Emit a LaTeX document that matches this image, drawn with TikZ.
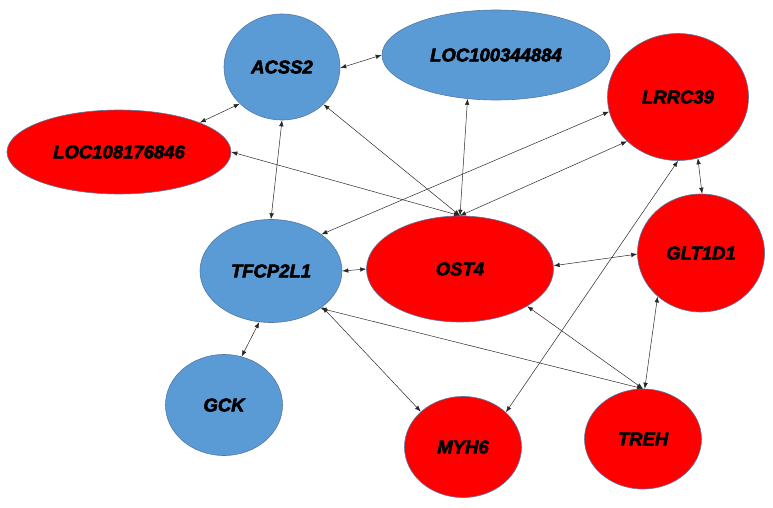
\documentclass[tikz,border=0pt]{standalone}
\usepackage{fontspec}
\setmainfont{Liberation Sans}[BoldItalicFeatures={FakeBold=3}]
\usetikzlibrary{shapes.geometric,arrows.meta}
\definecolor{nblue}{RGB}{91,155,213}
\definecolor{nred}{RGB}{255,0,0}
\definecolor{nedge}{RGB}{85,120,165}
\definecolor{lnk}{RGB}{40,40,40}
\begin{document}
\begin{tikzpicture}[x=1pt,y=-1pt,
  gene/.style={ellipse,draw=nedge,line width=0.6pt,inner sep=0pt,
    font=\fontsize{18.5}{20}\selectfont\bfseries\itshape},
  bgene/.style={gene,fill=nblue},
  rgene/.style={gene,fill=nred},
  lnkline/.style={lnk,line width=0.5pt,{Latex[length=6pt,width=4.5pt]}-{Latex[length=6pt,width=4.5pt]}}]
\useasboundingbox (0,0) rectangle (773,508);
\node[bgene,minimum width=116pt,minimum height=106pt] (acss2) at (282,67) {ACSS2};
\node[bgene,minimum width=228pt,minimum height=90pt] (loc34) at (496,55) {LOC100344884};
\node[rgene,minimum width=224pt,minimum height=84pt] (loc08) at (119,152) {LOC108176846};
\node[rgene,minimum width=141pt,minimum height=127pt] (lrrc39) at (678,97) {LRRC39};
\node[rgene,minimum width=127pt,minimum height=118pt] (glt1d1) at (701,253) {GLT1D1};
\node[rgene,minimum width=187pt,minimum height=106pt] (ost4) at (460,269) {OST4};
\node[bgene,minimum width=142pt,minimum height=103pt] (tfcp2l1) at (271,271) {TFCP2L1};
\node[bgene,minimum width=117pt,minimum height=101pt] (gck) at (224,405) {GCK};
\node[rgene,minimum width=117pt,minimum height=101pt] (myh6) at (463,447) {MYH6};
\node[rgene,minimum width=117pt,minimum height=100pt] (treh) at (643,439) {TREH};
\draw[lnkline] (acss2.-1) -- (loc34.180);
\draw[lnkline] (acss2.221) -- (loc08.20);
\draw[lnkline] (acss2.south) -- (tfcp2l1.north);
\draw[lnkline] (ost4.north) -- (acss2.-42);
\draw[lnkline] (ost4.north) -- (loc34.237);
\draw[lnkline] (ost4.north) -- (loc08.east);
\draw[lnkline] (ost4.north) -- (lrrc39.221);
\draw[lnkline] (tfcp2l1.36) -- (lrrc39.192);
\draw[lnkline] (tfcp2l1.east) -- (ost4.west);
\draw[lnkline] (tfcp2l1.257) -- (gck.70);
\draw[lnkline] (tfcp2l1.-35) -- (myh6.140);
\draw[lnkline] (tfcp2l1.-37) -- (treh.north);
\draw[lnkline] (ost4.-29) -- (treh.north);
\draw[lnkline] (ost4.2) -- (glt1d1.181);
\draw[lnkline] (lrrc39.-72) -- (glt1d1.89);
\draw[lnkline] (glt1d1.225) -- (treh.88);
\draw[lnkline] (lrrc39.south) -- (myh6.39);
\end{tikzpicture}
\end{document}
